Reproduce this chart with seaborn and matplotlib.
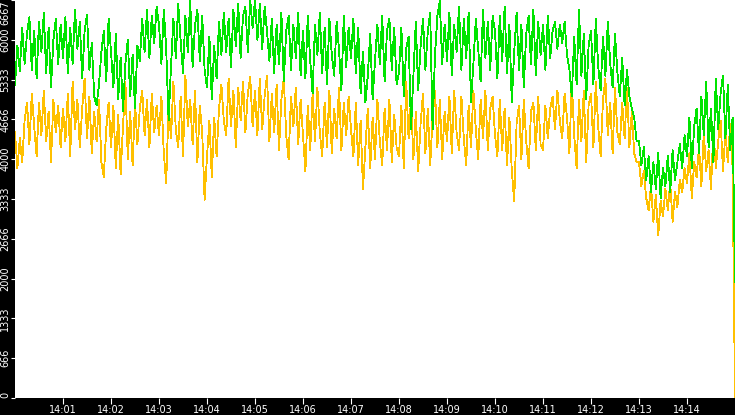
import numpy as np
import pandas as pd
import seaborn as sns
import matplotlib
matplotlib.use("Agg")
import matplotlib.pyplot as plt

# one sample every 3 seconds from 14:00:00 to 14:15:00
STEP_S = 3

green_vals = [
    5250, 5900, 5480, 6200, 5600, 6100, 6380, 5500, 6150, 5350, 6300, 5800, 6450, 5450, 6200, 5200, 6000, 6350, 5600, 6250,
    5700, 6380, 5450, 6200, 5600, 6500, 5850, 6300, 5350, 6150, 6420, 5500, 5950, 5050, 4900, 5250, 5800, 6150, 5300, 6350,
    5800, 5200, 6100, 5000, 5700, 4800, 5600, 6000, 5050, 5750, 4850, 5900, 5650, 6350, 5800, 6500, 5700, 6400, 5950, 6550,
    6250, 5600, 6500, 5850, 4650, 5550, 6350, 5700, 6600, 6000, 5450, 6400, 5800, 6650, 5550, 6250, 6500, 5650, 6400, 5500,
    5200, 6050, 5000, 5900, 5350, 6300, 5750, 6450, 5800, 6350, 5550, 6500, 5900, 6600, 5700, 6400, 6550, 5800, 6667, 6200,
    6667, 6000, 6600, 5850, 6550, 6150, 5650, 6350, 5450, 6250, 5600, 6450, 5300, 6150, 6400, 5500, 6250, 5700, 6450, 5400,
    6150, 5350, 6400, 5650, 5100, 6250, 5750, 6450, 5450, 6200, 5250, 6350, 5750, 5400, 6300, 5850, 5150, 6400, 5550, 6200,
    5700, 6350, 5450, 6200, 5100, 5800, 4950, 5400, 6100, 5000, 5650, 6250, 5600, 6400, 5300, 6150, 6350, 5500, 6200, 5250,
    5450, 6200, 5050, 5850, 6050, 4500, 5400, 6300, 5150, 5900, 6350, 5500, 6150, 6450, 4500, 5750, 6400, 6650, 5600, 6250,
    5650, 6450, 5400, 6250, 5800, 6550, 5500, 6350, 5700, 6450, 4950, 5600, 6350, 5850, 5300, 6500, 5700, 6300, 5500, 6400,
    6150, 5350, 6400, 5650, 6550, 5450, 6250, 4950, 5800, 6450, 5500, 6250, 5200, 6100, 6400, 5600, 6500, 5400, 6300, 5750,
    6250, 5500, 6400, 5700, 6150, 6300, 5850, 6250, 5950, 6300, 5750, 5500, 5050, 6050, 5250, 6500, 5400, 6100, 5000, 5900,
    6150, 5250, 6350, 5550, 5150, 6050, 5400, 6300, 5600, 5200, 6100, 5450, 5050, 5700, 4900, 5500, 5050, 4850, 4700, 4300,
    4300, 3900, 4200, 3650, 4050, 3450, 3950, 3500, 4100, 3350, 3850, 3550, 4050, 3450, 4150, 3650, 3950, 4250, 3850, 4400,
    4050, 4700, 3850, 4550, 4850, 4100, 5050, 4400, 5300, 4200, 4850, 3950, 5350, 4500, 5100, 5400, 4350, 5250, 4150, 4700,
    1950,
]

orange_vals = [
    4450, 3850, 4350, 3950, 4650, 4950, 4250, 5100, 4550, 4050, 4950, 4400, 5150, 4300, 4800, 3950, 5000, 4450, 4900, 4200,
    4850, 4300, 5100, 4050, 5300, 4500, 5000, 4200, 4850, 5350, 4350, 5050, 4100, 4800, 4300, 5000, 3950, 3700, 4500, 4950,
    4200, 4900, 3850, 4750, 3750, 4550, 5300, 4000, 4800, 3900, 4950, 4250, 4850, 5150, 4400, 5000, 4200, 5100, 4450, 4900,
    4400, 5050, 4100, 3600, 4900, 4350, 5300, 4500, 4200, 5050, 4050, 5400, 4550, 5000, 4250, 5150, 3950, 4900, 4450, 3320,
    4050, 4650, 3700, 4700, 4050, 4850, 5250, 4650, 4400, 5350, 4550, 5150, 4200, 5200, 4650, 5300, 4450, 5100, 5380, 4550,
    5150, 4400, 5350, 4500, 5050, 5400, 4300, 5100, 4450, 5250, 4150, 5000, 5350, 4400, 4000, 5050, 4550, 5200, 4250, 5000,
    4400, 3800, 4900, 4150, 5100, 4300, 5200, 4450, 4050, 4950, 4200, 5150, 4100, 4850, 4350, 5200, 4150, 4950, 4400, 5050,
    4500, 4050, 4950, 3900, 4650, 3500, 4200, 4850, 3850, 4700, 4000, 5000, 4300, 3900, 4850, 4150, 5000, 3950, 4750, 4200,
    4050, 4900, 3850, 5300, 4350, 5000, 4000, 4800, 3800, 4600, 5100, 4100, 4850, 3900, 4700, 5150, 4200, 5000, 4000, 4800,
    4300, 5050, 4100, 5150, 4450, 4150, 5050, 4350, 3900, 4900, 4200, 5150, 4500, 4000, 5000, 4350, 5150, 4150, 4850, 5050,
    4400, 4050, 5000, 4150, 4850, 3900, 4700, 3800, 3300, 4600, 4900, 4000, 5000, 4300, 3850, 4800, 4950, 4150, 5050, 4250,
    4150, 4900, 4350, 4850, 5050, 4500, 5150, 4650, 4350, 5100, 4700, 4100, 5300, 4400, 3850, 5000, 4300, 5150, 3950, 4900,
    5100, 4200, 5300, 4550, 4050, 5000, 5350, 4400, 4950, 4100, 5200, 4450, 4250, 4950, 4350, 5200, 4200, 4800, 4100, 3950,
    3950, 3550, 3800, 3350, 3150, 3550, 2950, 3400, 2720, 3300, 3050, 3500, 3150, 3600, 2950, 3450, 3200, 3650, 3450, 3850,
    3600, 4100, 3350, 3950, 3700, 4200, 3550, 4450, 3800, 4150, 3500, 4500, 3850, 4300, 4650, 3800, 4450, 3950, 4600, 3850,
    0,
]

y_ticks = [0, 666, 1333, 2000, 2666, 3333, 4000, 4666, 5333, 6000, 6667]
x_tick_minutes = list(range(1, 15))
x_tick_labels = [f"14:{m:02d}" for m in x_tick_minutes]

t = np.arange(len(green_vals)) * STEP_S
df = pd.DataFrame({"t": t, "green": green_vals, "orange": orange_vals})

fig = plt.figure(figsize=(7.35, 4.15), dpi=100, facecolor="black")
ax = fig.add_axes([15 / 735, 17 / 415, 720 / 735, 398 / 415])
ax.set_facecolor("white")

sns.lineplot(data=df, x="t", y="orange", ax=ax, color="#ffc000", lw=0.6, antialiased=False)
sns.lineplot(data=df, x="t", y="green", ax=ax, color="#00e400", lw=0.6, antialiased=False)

ax.set_xlim(0, 900)
ax.set_ylim(0, 6667)
ax.set_xlabel("")
ax.set_ylabel("")
for s in ax.spines.values():
    s.set_visible(False)

ax.set_xticks([m * 60 for m in x_tick_minutes])
ax.set_xticklabels(x_tick_labels)
ax.set_yticks(y_ticks)
ax.set_yticklabels([str(v) for v in y_ticks], rotation=90, va="center")
labels = ax.get_yticklabels()
labels[0].set_va("bottom")
labels[-1].set_va("top")

ax.tick_params(axis="x", colors="white", labelsize=7, length=4.3, width=0.8, pad=0.5)
ax.tick_params(axis="y", colors="white", labelsize=7, length=3, width=0.8, pad=0.5)

fig.savefig("out.png", dpi=100, facecolor="black")
